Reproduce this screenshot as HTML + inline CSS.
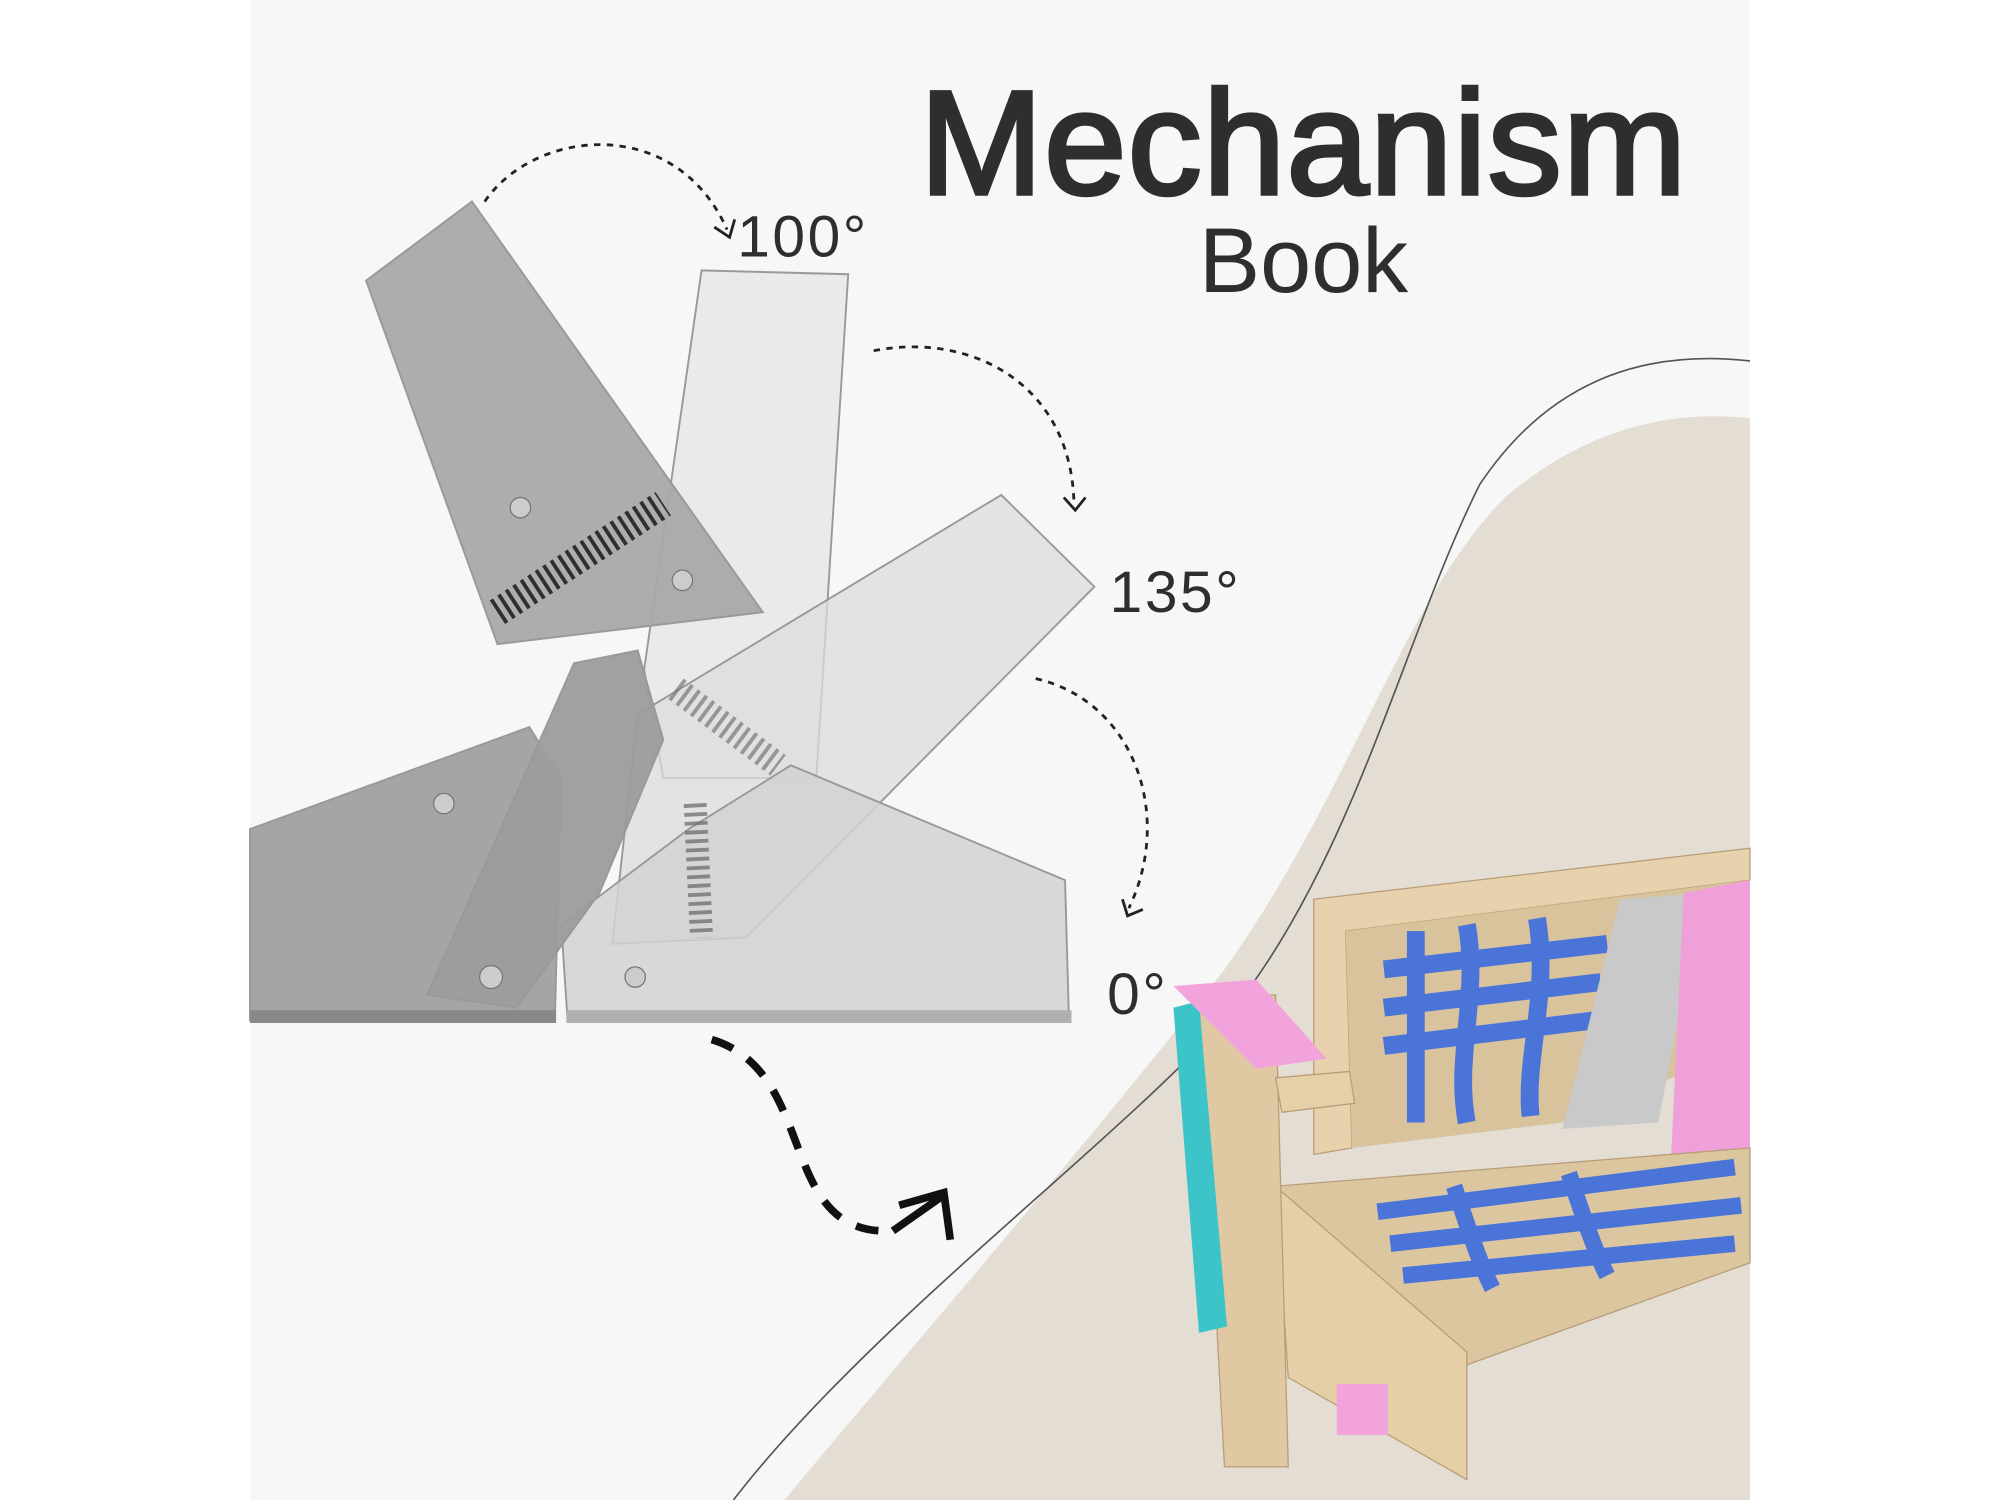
<!DOCTYPE html>
<html><head><meta charset="utf-8"><style>
html,body{margin:0;padding:0;background:#fff;}
svg{display:block;}
text{font-family:"Liberation Sans","DejaVu Sans",sans-serif;fill:#2e2e2e;}
</style></head><body>
<svg width="2000" height="1500" viewBox="0 0 1568 1176" preserveAspectRatio="none" xmlns="http://www.w3.org/2000/svg">
<rect x="0" y="0" width="1568" height="1176" fill="#fff"/>
<rect x="196" y="0" width="1176" height="1176" fill="#f7f7f7"/>
<path d="M615 1176 C720 1050 850 900 960 760 C1060 620 1100 470 1180 390 C1250 330 1320 322 1372 328 L1372 1176 Z" fill="#e3ddd4"/>
<path d="M575 1176 C680 1040 870 900 960 800 C1060 680 1100 500 1160 380 C1220 290 1300 275 1372 283" fill="none" stroke="#555" stroke-width="1.3"/>
<text x="1022" y="152" font-size="116" text-anchor="middle" stroke="#2e2e2e" stroke-width="3" letter-spacing="1">Mechanism</text>
<text x="1022" y="229" font-size="72" text-anchor="middle">Book</text>
<text x="578" y="201" font-size="46" letter-spacing="2">100°</text>
<text x="870" y="480" font-size="46" letter-spacing="2">135°</text>
<text x="868" y="795" font-size="46" letter-spacing="2">0°</text>
<g fill="none" stroke="#222" stroke-width="2.2" stroke-dasharray="5,5">
<path d="M380 158 C420 100 530 90 570 180"/>
<path d="M685 275 C760 260 840 300 842 395"/>
<path d="M812 532 C890 550 920 640 885 712"/>
</g>
<g fill="none" stroke="#222" stroke-width="2.2">
<path d="M560 178 L572 186 L576 172"/>
<path d="M834 390 L843 400 L851 390"/>
<path d="M880 705 L884 718 L896 713"/>
</g>
<path d="M558 815 C640 840 610 960 690 965" fill="none" stroke="#111" stroke-width="6" stroke-dasharray="18,14"/>
<path d="M705 945 L740 935 L745 972 M700 965 L740 937" fill="none" stroke="#111" stroke-width="6"/>
<g stroke="#999" stroke-width="1.5">
<polygon points="505,525 550,212 665,215 640,610 520,610" fill="#e6e6e6" fill-opacity="0.8"/>
<polygon points="500,560 785,388 858,460 585,735 480,740" fill="#dcdcdc" fill-opacity="0.75"/>
<polygon points="440,725 540,650 620,600 835,690 838,798 445,800" fill="#d2d2d2" fill-opacity="0.85"/>
<polygon points="287,220 370,158 598,480 390,505" fill="#a9a9a9" fill-opacity="0.95"/>
<polygon points="196,650 415,570 440,610 435,800 196,800" fill="#a5a5a5"/>
<polygon points="335,780 450,520 500,510 520,580 470,700 405,790" fill="#9c9c9c" fill-opacity="0.95"/>
</g>
<rect x="196" y="792" width="240" height="10" fill="#888"/>
<rect x="444" y="792" width="396" height="10" fill="#b0b0b0"/>
<path d="M390 480 L520 395" stroke="#222" stroke-dasharray="3,4" stroke-width="22" opacity="0.9"/>
<path d="M530 540 L610 600" stroke="#777" stroke-width="20" stroke-dasharray="3,4" opacity="0.7"/>
<path d="M545 630 L550 735" stroke="#666" stroke-width="18" stroke-dasharray="3,4" opacity="0.7"/>
<g fill="#ccc" stroke="#777">
<circle cx="408" cy="398" r="8"/><circle cx="535" cy="455" r="8"/><circle cx="348" cy="630" r="8"/><circle cx="385" cy="766" r="9"/><circle cx="498" cy="766" r="8"/>
</g>
<g>
<polygon points="1030,705 1372,665 1372,690 1055,730 1060,900 1030,905" fill="#e7d2ad" stroke="#b89e78"/>
<polygon points="1055,730 1372,690 1372,820 1225,880 1060,900" fill="#d9c39d"/>
<g stroke="#4a74d8" stroke-width="14" fill="none">
<path d="M1085 760 L1260 740 M1085 790 L1255 770 M1085 820 L1250 800"/>
<path d="M1110 730 L1110 880 M1150 725 C1160 780 1140 830 1150 880 M1205 720 C1215 780 1195 830 1200 875"/>
</g>
<polygon points="1270,705 1335,700 1300,880 1225,885" fill="#c9c9c9"/>
<polygon points="1320,700 1372,690 1372,960 1310,910" fill="#f0a0d8"/>
<polygon points="1000,930 1372,900 1372,990 1150,1070 1010,1050" fill="#dcc6a0" stroke="#b89e78"/>
<g stroke="#4a74d8" stroke-width="13" fill="none">
<path d="M1080 950 L1360 915 M1090 975 L1365 945 M1100 1000 L1360 975"/>
<path d="M1140 930 C1150 960 1160 990 1170 1010 M1230 920 C1240 950 1250 980 1260 1000"/>
</g>
<polygon points="1000,930 1150,1060 1150,1160 1010,1080" fill="#e5cfa6" stroke="#b89e78"/>
<polygon points="940,785 1000,780 1010,1150 960,1150" fill="#e0c9a2" stroke="#b89e78"/>
<polygon points="920,790 940,785 962,1040 940,1045" fill="#3cc4c8"/>
<polygon points="920,773 985,768 1040,830 985,838" fill="#f3a3dc"/>
<polygon points="1000,845 1058,840 1062,865 1005,872" fill="#e5d0a8" stroke="#b89e78"/>
<rect x="1048" y="1085" width="40" height="40" fill="#f3a3dc"/>
</g>
</svg>
</body></html>
